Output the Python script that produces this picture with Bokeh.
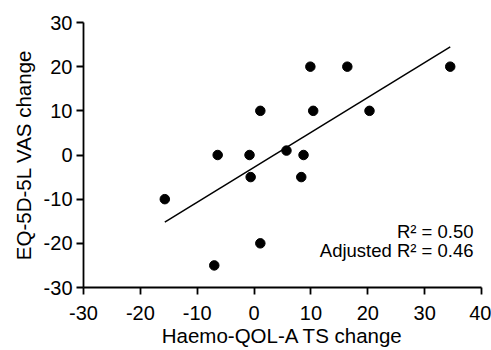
import numpy as np
from bokeh.plotting import figure
from bokeh.models import Range1d, FixedTicker, Label, ColumnDataSource
from bokeh.embed import file_html
from bokeh.resources import INLINE

# Data
haemo_change = [-15.7, -7.0, -6.4, -0.8, -0.6, 1.1, 1.1, 5.7, 8.3, 8.7, 9.9, 10.4, 16.4, 20.3, 34.5]
vas_change = [-10, -25, 0, 0, -5, 10, -20, 1, -5, 0, 20, 10, 20, 10, 20]
x_ticks = [-30, -20, -10, 0, 10, 20, 30, 40]
y_ticks = [-30, -20, -10, 0, 10, 20, 30]

x = np.array(haemo_change, dtype=float)
y = np.array(vas_change, dtype=float)
slope, intercept = np.polyfit(x, y, 1)
pred = slope * x + intercept
ss_res = np.sum((y - pred) ** 2)
ss_tot = np.sum((y - y.mean()) ** 2)
r2 = 1 - ss_res / ss_tot
n = len(x)
adj_r2 = 1 - (1 - r2) * (n - 1) / (n - 2)

FONT = "Liberation Sans"

p = figure(width=491, height=350, output_backend="svg", toolbar_location=None,
           x_range=Range1d(-30, 40), y_range=Range1d(-30, 30),
           min_border_left=83, min_border_right=10, min_border_top=22, min_border_bottom=63)
p.outline_line_color = None
p.xgrid.visible = False
p.ygrid.visible = False

for ax, ticks in ((p.xaxis, x_ticks), (p.yaxis, y_ticks)):
    ax.ticker = FixedTicker(ticks=ticks)
    ax.major_label_overrides = {t: str(t) for t in ticks}
    ax.axis_line_width = 1.8
    ax.major_tick_line_width = 1.8
    ax.major_tick_out = 7
    ax.major_tick_in = 0
    ax.minor_tick_line_color = None
    ax.major_label_text_font = FONT
    ax.major_label_text_font_size = "20px"
    ax.major_label_text_color = "black"
    ax.axis_label_text_font = FONT
    ax.axis_label_text_font_size = "20.5px"
    ax.axis_label_text_font_style = "normal"
    ax.axis_label_text_color = "black"
    ax.axis_line_color = "black"
    ax.major_tick_line_color = "black"

p.xaxis.axis_label = "Haemo-QOL-A TS change"
p.yaxis.axis_label = "EQ-5D-5L VAS change"
p.xaxis.major_label_standoff = 11
p.yaxis.major_label_standoff = 4
p.xaxis.axis_label_standoff = 1
p.yaxis.axis_label_standoff = 6

xl = np.array([x.min(), x.max()])
p.line(xl, slope * xl + intercept, line_color="black", line_width=1.5)

src = ColumnDataSource(dict(x=haemo_change, y=vas_change))
p.scatter("x", "y", source=src, size=9.5, fill_color="black", line_color="black")

p.add_layout(Label(x=38.6, y=-19.6, text="R\u00b2 = %.2f" % r2, text_align="right",
                   text_font=FONT, text_font_size="18.5px", text_color="black"))
p.add_layout(Label(x=38.6, y=-23.9, text="Adjusted R\u00b2 = %.2f" % adj_r2, text_align="right",
                   text_font=FONT, text_font_size="18.5px", text_color="black"))

open("out.html", "w").write(file_html(p, INLINE))
